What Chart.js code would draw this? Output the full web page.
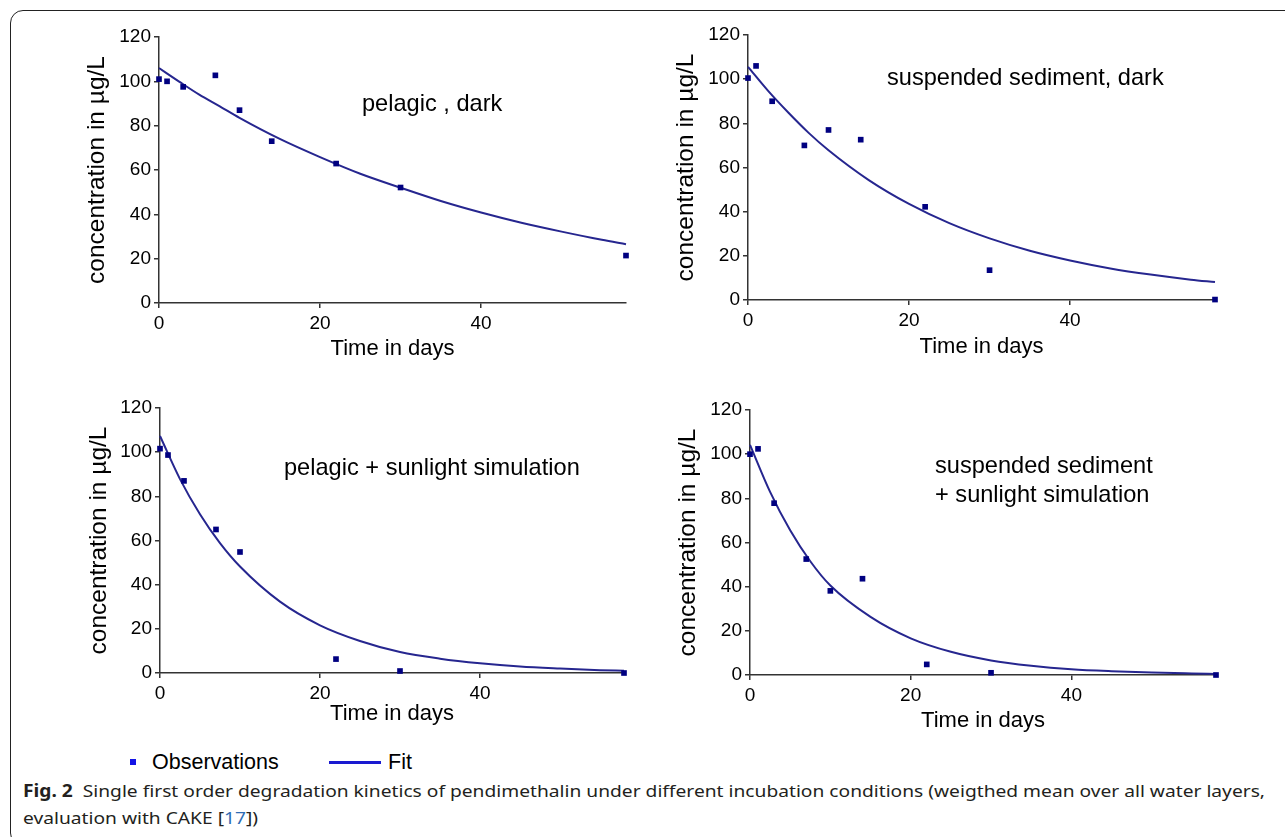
<!DOCTYPE html>
<html>
<head>
<meta charset="utf-8">
<script src="https://cdn.jsdelivr.net/npm/chart.js@4"></script>
<style>
body { margin: 0; background: #fff; width: 1285px; height: 837px; overflow: hidden; position: relative; font-family: "Liberation Sans", Arial, sans-serif; }
#frame { position: absolute; left: 10px; top: 10px; width: 1290px; height: 836px; border: 1.3px solid #222; border-radius: 13px; box-sizing: border-box; }
canvas { position: absolute; }
.note { position: absolute; font-size: 23.6px; line-height: 28px; color: #000; white-space: nowrap; }
.leg { position: absolute; font-size: 21.5px; line-height: 24px; color: #000; white-space: nowrap; }
.cap { position: absolute; left: 23px; font-family: "Noto Sans", "Open Sans", sans-serif; font-size: 17px; line-height: 22px; color: #231f20; white-space: nowrap; transform-origin: 0 50%; }
.cap b { font-weight: 700; }
.cap .ref { color: #2f6db5; }
</style>
</head>
<body>
<div id="frame"></div>

<canvas id="c1"></canvas>
<canvas id="c2"></canvas>
<canvas id="c3"></canvas>
<canvas id="c4"></canvas>

<div class="note" style="left:362px; top:89px;">pelagic , dark</div>
<div class="note" style="left:887px; top:63px;">suspended sediment, dark</div>
<div class="note" style="left:284px; top:453px;">pelagic + sunlight simulation</div>
<div class="note" style="left:935px; top:451px;">suspended sediment</div>
<div class="note" style="left:935px; top:480px;">+ sunlight simulation</div>

<div style="position:absolute; left:130px; top:759px; width:6px; height:6px; background:#1414e6;"></div>
<div class="leg" style="left:152px; top:750px;">Observations</div>
<div style="position:absolute; left:329px; top:761px; width:52px; height:2.5px; background:#1a1ad0;"></div>
<div class="leg" style="left:388px; top:750px;">Fit</div>

<div class="cap" id="cap1" style="top:780px;"><b>Fig. 2</b>&nbsp; Single first order degradation kinetics of pendimethalin under different incubation conditions (weigthed mean over all water layers,</div>
<div class="cap" id="cap2" style="top:807px;">evaluation with CAKE [<span class="ref">17</span>])</div>

<script>
// sampling days of the observations
const days = [0, 1, 3, 7, 10, 14, 22, 30, 58];

// observed concentrations (µg/L), null = no sample
const obsPelagicDark   = [101, 100, 97.5, 102.7, 87, 73, 62.9, 52.1, 21.4];
const obsSedimentDark  = [100.5, 106, 90, 70, 77, 72.6, 42.2, 13.5, 0.2];
const obsPelagicSun    = [101.6, 98.7, 87, 65, 54.8, null, 6.3, 0.9, 0];
const obsSedimentSun   = [100, 102.4, 77.8, 52.5, 38.1, 43.6, 4.8, 1.0, 0];

// fitted curves
const fitDays          = [0, 2.5, 5, 7.5, 10, 15, 20, 25, 30, 35, 40, 45, 50, 55, 58];
const fitPelagicDark   = [106, 99.9, 94, 88.8, 83.5, 74, 65.8, 58.3, 52, 46, 40.8, 36.2, 32.2, 28.5, 26.5];
const fitSedimentDark  = [105.6, 94.7, 84.9, 75.8, 67.8, 54.3, 43.5, 34.8, 27.9, 22.3, 17.9, 14.3, 11.5, 9.2, 8.1];
const fitPelagicSun    = [107.3, 87.8, 71.9, 58.8, 48.2, 32.3, 21.6, 14.5, 9.5, 6.5, 4.4, 2.9, 2.0, 1.3, 1.0];
const fitSedimentSun   = [104.2, 82.9, 65.5, 51.5, 40.5, 26.3, 16.6, 10.5, 6.6, 4.2, 2.6, 1.7, 1.1, 0.7, 0.5];

const yTicks = [0, 20, 40, 60, 80, 100, 120];
const xTicks = [0, 20, 40];

const FONT = '"Liberation Sans", Arial, sans-serif';

function pairs(xs, ys) {
    return xs.map((x, i) => ({ x: x, y: ys[i] })).filter(p => p.y !== null);
}

// box = page position of the plot area and of the two axis titles
function makePanel(id, obs, fit, box) {
    const padTop = 22, padRight = 30, yW = 90, xH = 70;
    const w = box.right - box.left + yW + padRight;
    const h = box.bottom - box.top + padTop + xH;
    const L = box.left - yW, T = box.top - padTop;
    const canvas = document.getElementById(id);
    canvas.width = w; canvas.height = h;
    canvas.style.left = L + 'px'; canvas.style.top = T + 'px';

    const xTitleSize = 22, yTitleSize = 24.5;
    const xTitlePad = h - (box.xTitleY - T) - xTitleSize * 1.2 / 2;
    const yTitlePad = (box.yTitleX - L) - yTitleSize * 1.2 / 2;

    new Chart(canvas.getContext('2d'), {
        type: 'scatter',
        data: {
            datasets: [
                {
                    label: 'Observations',
                    data: pairs(days, obs),
                    pointStyle: 'rect',
                    pointRadius: 4,
                    borderWidth: 0,
                    backgroundColor: '#000080',
                    borderColor: '#000080',
                    clip: false
                },
                {
                    label: 'Fit',
                    data: pairs(fitDays, fit),
                    showLine: true,
                    pointRadius: 0,
                    borderColor: '#26268f',
                    borderWidth: 2,
                    cubicInterpolationMode: 'monotone',
                    clip: false
                }
            ]
        },
        options: {
            responsive: false,
            animation: false,
            devicePixelRatio: 1,
            layout: { padding: { top: padTop, right: padRight, left: 0, bottom: 0 } },
            plugins: { legend: { display: false }, tooltip: { enabled: false } },
            scales: {
                x: {
                    type: 'linear', min: 0, max: 58,
                    border: { color: '#333', width: 1.5 },
                    grid: { drawOnChartArea: false, drawTicks: true, tickLength: 5, color: '#333', lineWidth: 1.5 },
                    afterBuildTicks: s => { s.ticks = xTicks.map(v => ({ value: v })); },
                    ticks: { padding: 4, color: '#000', maxRotation: 0, font: { family: FONT, size: 19 } },
                    title: { display: true, text: 'Time in days', color: '#000', font: { family: FONT, size: xTitleSize }, padding: { top: 0, bottom: xTitlePad } },
                    afterFit: s => { s.height = xH; }
                },
                y: {
                    min: 0, max: 120,
                    border: { color: '#333', width: 1.5 },
                    grid: { drawOnChartArea: false, drawTicks: true, tickLength: 5, color: '#333', lineWidth: 1.5 },
                    afterBuildTicks: s => { s.ticks = yTicks.map(v => ({ value: v })); },
                    ticks: { padding: 3, color: '#000', font: { family: FONT, size: 19 } },
                    title: { display: true, text: 'concentration in µg/L', color: '#000', font: { family: FONT, size: yTitleSize }, padding: { top: yTitlePad, bottom: 0 } },
                    afterFit: s => { s.width = yW; }
                }
            }
        }
    });
}

makePanel('c1', obsPelagicDark, fitPelagicDark,   { left: 159, right: 626, top: 37, bottom: 303, xTitleY: 349, yTitleX: 97 });
makePanel('c2', obsSedimentDark, fitSedimentDark, { left: 748, right: 1215, top: 35, bottom: 300, xTitleY: 347, yTitleX: 686 });
makePanel('c3', obsPelagicSun, fitPelagicSun,     { left: 160, right: 624, top: 408, bottom: 673, xTitleY: 714, yTitleX: 99 });
makePanel('c4', obsSedimentSun, fitSedimentSun,   { left: 750, right: 1216, top: 410, bottom: 675, xTitleY: 721, yTitleX: 688 });

// squeeze the caption to the width it has in the figure
const cap1 = document.getElementById('cap1');
const cap2 = document.getElementById('cap2');
const k = 1242 / cap1.getBoundingClientRect().width;
cap1.style.transform = 'scaleX(' + k + ')';
cap2.style.transform = 'scaleX(' + k + ')';
</script>
</body>
</html>
